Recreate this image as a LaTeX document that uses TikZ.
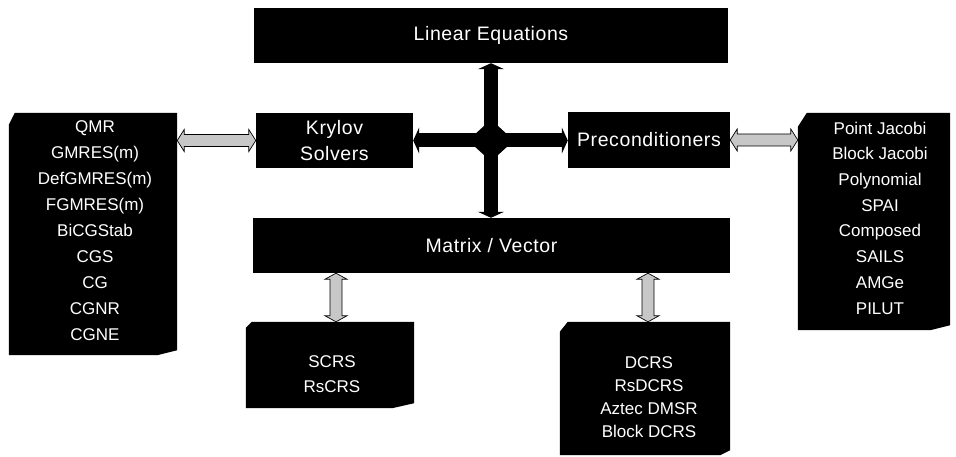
\documentclass[tikz,border=0pt]{standalone}
\usepackage{fontspec}
\setmainfont{Liberation Sans}
\newfontfamily\mainboxfont[LetterSpace=3]{Liberation Sans}
\usetikzlibrary{arrows.meta,calc,shapes.geometric}
\newcommand\HArr[2]{%
  \filldraw[garrow] let \p1=(#1), \p2=(#2) in
   (\x1,\y1) -- (\x1+7pt,\y1+11pt) -- (\x1+7pt,\y1+6pt) -- (\x2-7pt,\y1+6pt) -- (\x2-7pt,\y1+11pt)
   -- (\x2,\y1) -- (\x2-7pt,\y1-11pt) -- (\x2-7pt,\y1-6pt) -- (\x1+7pt,\y1-6pt) -- (\x1+7pt,\y1-11pt) -- cycle;}
\newcommand\VArr[2]{%
  \filldraw[garrow] let \p1=(#1), \p2=(#2) in
   (\x1,\y1) -- (\x1+11pt,\y1-6pt) -- (\x1+6pt,\y1-6pt) -- (\x1+6pt,\y2+6pt) -- (\x1+11pt,\y2+6pt)
   -- (\x1,\y2) -- (\x1-11pt,\y2+6pt) -- (\x1-6pt,\y2+6pt) -- (\x1-6pt,\y1-6pt) -- (\x1-11pt,\y1-6pt) -- cycle;}
\begin{document}
\begin{tikzpicture}[x=1pt,y=-1pt,
  blk/.style={fill=black, text=white, inner sep=0pt, align=center, font=\mainboxfont\fontsize{19.5}{26}\selectfont},
  holder/.style={inner sep=0pt},
  ltxt/.style={text=white, align=center, inner sep=0pt},
  bar/.style={line width=14pt, {Triangle[width=26pt,length=6pt]}-{Triangle[width=26pt,length=6pt]}},
  garrow/.style={fill=black!22, draw=black, line width=0.7pt, line join=miter},
]
\useasboundingbox (0,0) rectangle (956,457);

% main boxes
\node[blk, minimum width=474pt, minimum height=55pt] (LE) at (491,35.5) {Linear Equations};
\node[blk, minimum width=157pt, minimum height=55pt] (krylov) at (334.5,140.5) {Krylov\\Solvers};
\node[blk, minimum width=162pt, minimum height=56pt] (precond) at (649,140) {Preconditioners};
\node[blk, minimum width=477pt, minimum height=55pt] (MV) at (491.5,245.5) {Matrix / Vector};

% list boxes (chamfered)
\node[holder, minimum width=168pt, minimum height=242pt] (slist) at (93,234) {};
\fill ($(slist.north west)+(0,12)$) -- ($(slist.north west)+(6,0)$) -- (slist.north east)
  -- ($(slist.south east)+(0,-5)$) -- ($(slist.south east)+(-20,0)$) -- (slist.south west) -- cycle;
\node[holder, minimum width=152pt, minimum height=217pt] (plist) at (874,221.5) {};
\fill ($(plist.north west)+(0,14)$) -- ($(plist.north west)+(9,0)$) -- (plist.north east)
  -- ($(plist.south east)+(0,-5)$) -- ($(plist.south east)+(-20,0)$) -- (plist.south west) -- cycle;
\node[holder, minimum width=168pt, minimum height=86pt] (scrs) at (330,365) {};
\fill ($(scrs.north west)+(0,6)$) -- ($(scrs.north west)+(6,0)$) -- (scrs.north east)
  -- ($(scrs.south east)+(0,-5)$) -- ($(scrs.south east)+(-22,0)$) -- (scrs.south west) -- cycle;
\node[holder, minimum width=170pt, minimum height=133pt] (dcrs) at (645,388.5) {};
\fill ($(dcrs.north west)+(0,10)$) -- ($(dcrs.north west)+(8,0)$) -- (dcrs.north east)
  -- ($(dcrs.south east)+(0,-5)$) -- ($(dcrs.south east)+(-10,0)$) -- (dcrs.south west) -- cycle;

% list texts
\node[ltxt, font=\fontsize{17}{26}\selectfont] (stxt) at (95,231)
  {QMR\\GMRES(m)\\DefGMRES(m)\\FGMRES(m)\\BiCGStab\\CGS\\CG\\CGNR\\CGNE};
\node[ltxt, font=\fontsize{17}{25.7}\selectfont] (ptxt) at (880,218)
  {Point Jacobi\\Block Jacobi\\Polynomial\\SPAI\\Composed\\SAILS\\AMGe\\PILUT};
\node[ltxt, font=\fontsize{17}{25}\selectfont] (sctxt) at (332,374.5) {SCRS\\RsCRS};
\node[ltxt, font=\fontsize{17}{23}\selectfont] (dctxt) at (649,397.5)
  {DCRS\\RsDCRS\\Aztec DMSR\\Block DCRS};

% central cross
\draw[bar] (LE.south) -- (MV.north -| LE.south);
\draw[bar] (krylov.east) -- (precond.west |- krylov.east);
\node[diamond, fill=black, minimum width=46pt, minimum height=42pt, inner sep=0pt] (hub)
  at (LE.south |- krylov.east) {};

% grey double arrows
\HArr{slist.east |- krylov.west}{krylov.west}
\HArr{precond.east}{plist.west |- precond.east}
\VArr{$(MV.south -| scrs.north)+(6,0)$}{$(scrs.north)+(6,0)$}
\VArr{$(MV.south -| dcrs.north)+(3,0)$}{$(dcrs.north)+(3,0)$}
\end{tikzpicture}
\end{document}
